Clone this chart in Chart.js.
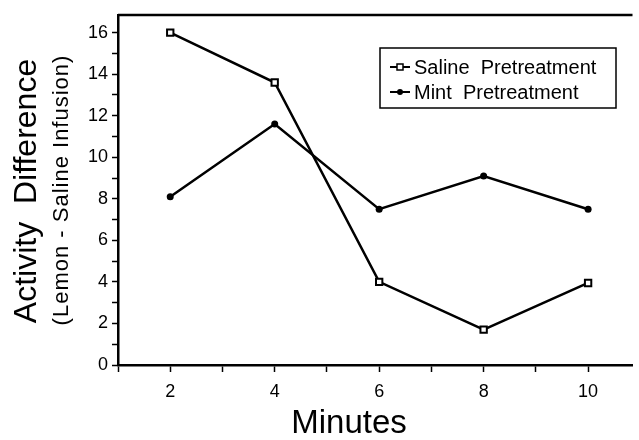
<!DOCTYPE html>
<html>
<head>
<meta charset="utf-8">
<script src="https://cdn.jsdelivr.net/npm/chart.js@4/dist/chart.umd.min.js"></script>
<style>
  body { margin: 0; background: #fff; }
  canvas { display: block; }
</style>
</head>
<body>
<canvas id="chart" width="639" height="440"></canvas>
<script>
// data
const minutes = [2, 4, 6, 8, 10];
const salineValues = [16.0, 13.6, 4.0, 1.7, 3.95];
const mintValues = [8.1, 11.6, 7.5, 9.1, 7.5];
const xTicks = [1, 2, 3, 4, 5, 6, 7, 8, 9, 10];
const yTicks = [0, 1, 2, 3, 4, 5, 6, 7, 8, 9, 10, 11, 12, 13, 14, 15, 16];

const FONT = '"Liberation Sans", Arial, Helvetica, sans-serif';

const toPoints = (vals) => minutes.map((m, i) => ({ x: m, y: vals[i] }));

const extras = {
    id: 'extras',
    afterDraw(chart) {
        const ctx = chart.ctx;
        const a = chart.chartArea;
        ctx.save();

        // top frame line
        ctx.strokeStyle = '#000';
        ctx.lineWidth = 2.5;
        ctx.beginPath();
        ctx.moveTo(a.left, a.top);
        ctx.lineTo(a.right, a.top);
        ctx.stroke();

        // y titles
        ctx.fillStyle = '#000';
        ctx.textAlign = 'center';
        ctx.textBaseline = 'middle';
        ctx.save();
        ctx.translate(27, 191);
        ctx.rotate(-Math.PI / 2);
        ctx.font = '32px ' + FONT;
        ctx.fillText('Activity  Difference', 0, 0);
        ctx.restore();
        ctx.save();
        ctx.translate(62, 190);
        ctx.rotate(-Math.PI / 2);
        ctx.font = '22px ' + FONT;
        ctx.letterSpacing = '1px';
        ctx.fillText('(Lemon - Saline Infusion)', 0, 0);
        ctx.restore();

        // x title
        ctx.font = '33px ' + FONT;
        ctx.fillText('Minutes', 349, 424);

        // legend box
        const bx = 380, by = 48, bw = 236, bh = 60;
        ctx.lineWidth = 1.5;
        ctx.strokeRect(bx, by, bw, bh);
        ctx.font = '20px ' + FONT;
        ctx.textAlign = 'left';
        chart.data.datasets.forEach((ds, i) => {
            const y = by + 19 + i * 25;
            ctx.lineWidth = 2;
            ctx.beginPath();
            ctx.moveTo(bx + 10, y);
            ctx.lineTo(bx + 30, y);
            ctx.stroke();
            if (ds.pointStyle === 'rect') {
                ctx.fillStyle = '#fff';
                ctx.fillRect(bx + 17, y - 3, 6, 6);
                ctx.lineWidth = 1.5;
                ctx.strokeRect(bx + 17, y - 3, 6, 6);
            } else {
                ctx.fillStyle = '#000';
                ctx.beginPath();
                ctx.arc(bx + 20, y, 3, 0, Math.PI * 2);
                ctx.fill();
            }
            ctx.fillStyle = '#000';
            ctx.fillText(ds.label, bx + 34, y + 1);
        });
        ctx.restore();
    }
};

new Chart(document.getElementById('chart'), {
    type: 'line',
    data: {
        datasets: [
            {
                label: 'Saline  Pretreatment',
                data: toPoints(salineValues),
                borderColor: '#000',
                borderWidth: 2.5,
                pointStyle: 'rect',
                pointRadius: 4.5,
                pointBorderWidth: 2,
                pointBackgroundColor: '#fff',
                pointBorderColor: '#000',
                tension: 0
            },
            {
                label: 'Mint  Pretreatment',
                data: toPoints(mintValues),
                borderColor: '#000',
                borderWidth: 2.5,
                pointStyle: 'circle',
                pointRadius: 3.5,
                pointBorderWidth: 0,
                pointBackgroundColor: '#000',
                tension: 0
            }
        ]
    },
    options: {
        responsive: false,
        animation: false,
        layout: { padding: { top: 15, right: 0, left: 0, bottom: 0 } },
        plugins: {
            legend: { display: false },
            tooltip: { enabled: false }
        },
        scales: {
            x: {
                type: 'linear',
                min: 1,
                max: 10.85,
                afterBuildTicks: (s) => { s.ticks = xTicks.map(v => ({ value: v })); },
                afterFit: (s) => { s.height = 75; },
                ticks: {
                    color: '#000',
                    font: { family: FONT, size: 18 },
                    padding: 9,
                    maxRotation: 0,
                    autoSkip: false,
                    callback: (v) => v % 2 === 0 ? v : ''
                },
                grid: { drawOnChartArea: false, drawTicks: true, tickLength: 7, tickColor: '#000', tickWidth: 1.5 },
                border: { display: true, color: '#000', width: 2.5 }
            },
            y: {
                min: 0,
                max: 16.85,
                afterBuildTicks: (s) => { s.ticks = yTicks.map(v => ({ value: v })); },
                afterFit: (s) => { s.width = 118; },
                ticks: {
                    color: '#000',
                    font: { family: FONT, size: 18 },
                    padding: 4,
                    autoSkip: false,
                    callback: (v) => v % 2 === 0 ? v : ''
                },
                grid: { drawOnChartArea: false, drawTicks: true, tickLength: 6, tickColor: '#000', tickWidth: 1.5 },
                border: { display: true, color: '#000', width: 2.5 }
            }
        }
    },
    plugins: [extras]
});
</script>
</body>
</html>
